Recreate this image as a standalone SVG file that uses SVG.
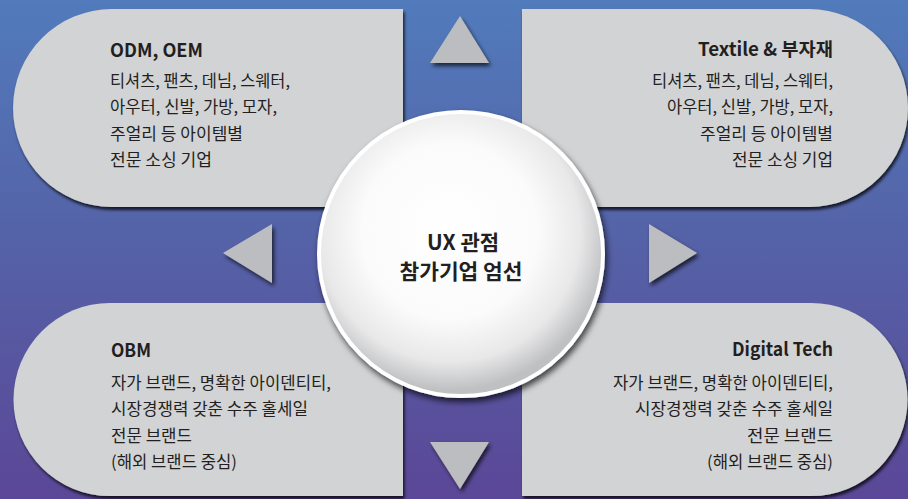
<svg xmlns="http://www.w3.org/2000/svg" width="908" height="499" viewBox="0 0 908 499">
<defs>
<linearGradient id="bg" x1="0" y1="0" x2="0" y2="1">
<stop offset="0" stop-color="#517bbc"/>
<stop offset="0.5" stop-color="#5561a6"/>
<stop offset="1" stop-color="#5b4797"/>
</linearGradient>
<radialGradient id="ball" cx="0.46" cy="0.42" r="0.56">
<stop offset="0" stop-color="#ffffff"/>
<stop offset="0.55" stop-color="#fbfbfb"/>
<stop offset="0.82" stop-color="#e8e8e9"/>
<stop offset="1" stop-color="#bfc0c2"/>
</radialGradient>
<filter id="sh" x="-10%" y="-10%" width="120%" height="130%">
<feDropShadow dx="1.5" dy="3" stdDeviation="1.5" flood-color="#000" flood-opacity="0.75"/>
</filter>
<filter id="shc" x="-10%" y="-10%" width="125%" height="125%">
<feDropShadow dx="2" dy="4" stdDeviation="3" flood-color="#000" flood-opacity="0.7"/>
</filter>
<filter id="sht" x="-30%" y="-30%" width="160%" height="160%">
<feDropShadow dx="2" dy="3" stdDeviation="2" flood-color="#000" flood-opacity="0.7"/>
</filter>
</defs>
<style>
.box{fill:#d2d3d5;filter:url(#sh)}
.tri{fill:#bcbdc0;filter:url(#sht)}
text{font-family:"Noto Sans CJK KR","Liberation Sans",sans-serif;fill:#231f20}
.t{font-size:18.5px;font-weight:700}
.b{font-size:16.5px;font-weight:400}
.c{font-size:21px;font-weight:700;text-anchor:middle}
.r{text-anchor:end}
</style>
<rect x="0" y="0" width="908" height="499" fill="url(#bg)"/>

<g id="connectors">
<polygon class="tri" points="460,16 489,63 430,63"/>
<polygon class="tri" points="223,253 272,224 272,283"/>
<polygon class="tri" points="697,253 649,224 649,283"/>
<polygon class="tri" points="430,442 489,442 460,489"/>
</g>

<g id="odm">
<path class="box" d="M112 9H403V207H112A99 99 0 0 1 112 9Z"/>
<text class="t" x="110" y="57" textLength="93" lengthAdjust="spacingAndGlyphs">ODM, OEM</text>
<text class="b" x="110" y="86.5" textLength="180" lengthAdjust="spacingAndGlyphs">티셔츠, 팬츠, 데님, 스웨터,</text>
<text class="b" x="110" y="113" textLength="167" lengthAdjust="spacingAndGlyphs">아우터, 신발, 가방, 모자,</text>
<text class="b" x="110" y="139.5" textLength="133" lengthAdjust="spacingAndGlyphs">주얼리 등 아이템별</text>
<text class="b" x="110" y="166" textLength="102" lengthAdjust="spacingAndGlyphs">전문 소싱 기업</text>
</g>

<g id="textile">
<path class="box" d="M522 9H809A99 99 0 0 1 809 207H522Z"/>
<text class="t r" x="833" y="56" textLength="135" lengthAdjust="spacingAndGlyphs">Textile &amp; 부자재</text>
<text class="b r" x="833" y="86.5" textLength="181" lengthAdjust="spacingAndGlyphs">티셔츠, 팬츠, 데님, 스웨터,</text>
<text class="b r" x="833" y="113" textLength="166" lengthAdjust="spacingAndGlyphs">아우터, 신발, 가방, 모자,</text>
<text class="b r" x="833" y="139.5" textLength="133" lengthAdjust="spacingAndGlyphs">주얼리 등 아이템별</text>
<text class="b r" x="833" y="166" textLength="101" lengthAdjust="spacingAndGlyphs">전문 소싱 기업</text>
</g>

<g id="obm">
<path class="box" d="M110 303H403V496H110A96.5 96.5 0 0 1 110 303Z"/>
<text class="t" x="111" y="357" textLength="40" lengthAdjust="spacingAndGlyphs">OBM</text>
<text class="b" x="111" y="388.5" textLength="220" lengthAdjust="spacingAndGlyphs">자가 브랜드, 명확한 아이덴티티,</text>
<text class="b" x="111" y="415" textLength="197" lengthAdjust="spacingAndGlyphs">시장경쟁력 갖춘 수주 홀세일</text>
<text class="b" x="111" y="441.5" textLength="81" lengthAdjust="spacingAndGlyphs">전문 브랜드</text>
<text class="b" x="111" y="468" textLength="126" lengthAdjust="spacingAndGlyphs">(해외 브랜드 중심)</text>
</g>

<g id="digital">
<path class="box" d="M522 303H811A96.5 96.5 0 0 1 811 496H522Z"/>
<text class="t r" x="833" y="356" textLength="101" lengthAdjust="spacingAndGlyphs">Digital Tech</text>
<text class="b r" x="833" y="388.5" textLength="220" lengthAdjust="spacingAndGlyphs">자가 브랜드, 명확한 아이덴티티,</text>
<text class="b r" x="833" y="415" textLength="198" lengthAdjust="spacingAndGlyphs">시장경쟁력 갖춘 수주 홀세일</text>
<text class="b r" x="833" y="441.5" textLength="86" lengthAdjust="spacingAndGlyphs">전문 브랜드</text>
<text class="b r" x="833" y="468" textLength="126" lengthAdjust="spacingAndGlyphs">(해외 브랜드 중심)</text>
</g>

<g id="center">
<circle cx="461" cy="254" r="142" fill="url(#ball)" stroke="#ffffff" stroke-width="4" filter="url(#shc)"/>
<text class="c" x="463" y="250" textLength="72" lengthAdjust="spacingAndGlyphs">UX 관점</text>
<text class="c" x="461" y="278.5" textLength="123" lengthAdjust="spacingAndGlyphs">참가기업 엄선</text>
</g>
</svg>
